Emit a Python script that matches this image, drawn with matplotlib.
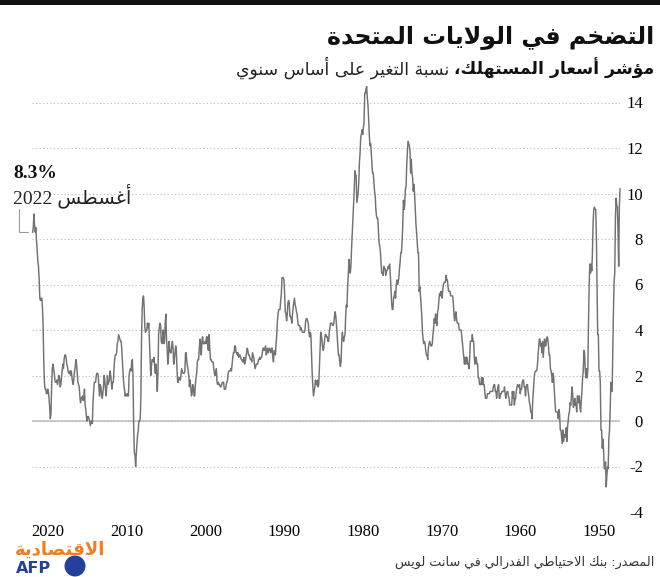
import re

import matplotlib
matplotlib.use('Agg')
import matplotlib.pyplot as plt
import matplotlib.patches as mpatches
import matplotlib.transforms as mtrans
import numpy as np

W, H = 660, 577

# monthly CPI, year-on-year change (%)
cpi_1940s = [10.2, 9.4, 6.8, 8.3, 9.4, 9.5, 9.8, 8.9, 6.5, 6.1, 4.8, 3.0,
             1.3, 1.3, 1.7, 0.4, -0.4, -0.8, -2.1, -2.0, -2.4, -2.9, -1.8, -2.1]
cpi_1950s = [-2.1, -1.3, -0.8, -1.2, -0.4, -0.4, 1.7, 2.2, 2.2, 3.8, 3.8, 5.9,
             8.1, 9.3, 9.3, 9.4, 9.3, 8.7, 7.4, 6.6, 6.9, 6.5, 6.9, 6.0,
             4.3, 2.3, 1.9, 2.3, 1.9, 2.3, 3.0, 3.1, 2.2, 1.9, 1.3, 0.9,
             0.4, 0.6, 1.1, 0.8, 1.1, 1.1, 0.4, 0.8, 0.7, 1.0, 0.7, 0.6,
             1.1, 1.5, 1.1, 0.7, 0.8, 0.4, 0.3, 0.0, -0.3, -0.9, -0.3, -0.7,
             -0.7, -0.6, -0.9, -0.4, -1.0, -0.7, -0.4, -0.4, 0.3, 0.5, 0.1, 0.4,
             0.4, 0.4, 0.4, 0.8, 1.3, 1.9, 2.1, 1.7, 2.0, 2.2, 2.3, 2.9,
             2.9, 3.3, 3.6, 3.7, 3.6, 3.3, 3.3, 3.6, 3.2, 2.8, 3.5, 3.0,
             3.4, 3.3, 3.6, 3.6, 3.2, 2.8, 2.4, 2.2, 2.2, 2.2, 2.1, 1.8,
             1.3, 0.9, 0.1, 0.4, 0.4, 0.7, 0.8, 1.1, 1.3, 1.6, 1.6, 1.5]
cpi_1960s = [1.1, 1.5, 1.5, 1.8, 1.8, 1.7, 1.4, 1.4, 1.2, 1.6, 1.5, 1.5,
             1.6, 1.5, 1.3, 1.0, 0.9, 0.7, 1.3, 1.0, 1.3, 0.7, 0.7, 0.7,
             0.7, 1.0, 1.1, 1.3, 1.3, 1.2, 1.0, 1.2, 1.5, 1.3, 1.3, 1.3,
             1.3, 1.2, 1.2, 1.0, 1.0, 1.6, 1.5, 1.3, 1.0, 1.3, 1.3, 1.6,
             1.6, 1.5, 1.3, 1.3, 1.3, 1.3, 1.3, 1.2, 1.2, 1.2, 1.2, 1.0,
             1.0, 1.0, 1.3, 1.6, 1.6, 1.9, 1.6, 1.9, 1.6, 1.6, 1.6, 1.9,
             1.9, 2.5, 2.5, 2.8, 2.8, 2.5, 2.8, 3.5, 3.5, 3.8, 3.5, 3.5,
             3.5, 2.8, 2.3, 2.5, 2.5, 2.8, 2.8, 2.5, 2.8, 2.5, 2.8, 3.1,
             3.4, 3.7, 4.0, 4.0, 4.0, 4.0, 4.3, 4.3, 4.3, 4.5, 4.8, 4.7,
             4.4, 4.7, 5.2, 5.5, 5.5, 5.5, 5.5, 5.7, 5.7, 5.7, 5.9, 6.2]
cpi_1970s = [6.2, 6.4, 6.1, 6.1, 6.1, 6.0, 5.8, 5.4, 5.6, 5.7, 5.5, 5.6,
             5.3, 4.9, 4.8, 4.2, 4.4, 4.7, 4.3, 4.5, 4.1, 3.8, 3.4, 3.3,
             3.3, 3.4, 3.5, 3.4, 3.2, 2.7, 2.9, 2.9, 3.1, 3.4, 3.5, 3.4,
             3.6, 3.9, 4.6, 5.1, 5.5, 5.9, 5.7, 7.4, 7.4, 7.9, 8.3, 8.7,
             9.4, 10.0, 10.4, 10.1, 10.7, 10.9, 11.5, 10.9, 11.9, 12.1, 12.2, 12.3,
             11.8, 11.2, 10.3, 10.2, 9.5, 9.3, 9.7, 8.6, 7.9, 7.4, 7.4, 7.0,
             6.7, 6.3, 6.1, 6.0, 6.2, 5.9, 5.4, 5.7, 5.5, 5.4, 4.9, 4.9,
             5.2, 5.9, 6.4, 6.9, 6.7, 6.8, 6.7, 6.6, 6.6, 6.4, 6.7, 6.7,
             6.8, 6.4, 6.5, 6.5, 6.9, 7.4, 7.7, 7.8, 8.3, 8.9, 8.9, 9.0,
             9.3, 9.9, 10.1, 10.5, 10.9, 10.9, 11.3, 11.8, 12.2, 12.1, 12.6, 13.3]
cpi_1980s = [13.9, 14.2, 14.7, 14.6, 14.4, 14.4, 13.1, 12.9, 12.6, 12.8, 12.6, 12.5,
             11.8, 11.4, 10.5, 10.0, 9.8, 9.6, 10.8, 10.8, 11.0, 10.1, 9.5, 8.9,
             8.4, 7.6, 6.8, 6.5, 6.7, 7.1, 6.4, 5.9, 5.0, 5.1, 4.6, 3.8,
             3.7, 3.5, 3.6, 3.9, 3.5, 2.6, 2.4, 2.6, 2.9, 2.9, 3.3, 3.8,
             4.2, 4.6, 4.8, 4.6, 4.3, 4.2, 4.2, 4.3, 4.3, 4.3, 4.1, 3.9,
             3.5, 3.5, 3.7, 3.7, 3.8, 3.8, 3.6, 3.3, 3.1, 3.2, 3.5, 3.8,
             3.9, 3.1, 2.3, 1.6, 1.5, 1.8, 1.6, 1.6, 1.8, 1.5, 1.3, 1.1,
             1.5, 2.1, 3.0, 3.8, 3.9, 3.7, 3.9, 4.3, 4.4, 4.5, 4.5, 4.4,
             4.0, 3.9, 3.9, 3.9, 3.9, 4.0, 4.1, 4.0, 4.2, 4.2, 4.2, 4.4,
             4.7, 4.8, 5.0, 5.1, 5.4, 5.2, 5.0, 4.7, 4.3, 4.5, 4.6, 4.6]
cpi_1990s = [5.2, 5.3, 5.2, 4.7, 4.4, 4.7, 4.8, 5.6, 6.2, 6.3, 6.3, 6.3,
             5.6, 5.3, 4.9, 4.9, 4.9, 4.7, 4.4, 3.8, 3.4, 2.9, 3.0, 3.1,
             2.6, 2.8, 3.2, 3.2, 3.0, 3.1, 3.2, 3.1, 3.0, 3.2, 3.0, 2.9,
             3.3, 3.2, 3.1, 3.2, 3.2, 3.0, 2.8, 2.8, 2.7, 2.8, 2.7, 2.7,
             2.5, 2.5, 2.5, 2.4, 2.3, 2.5, 2.8, 2.9, 3.0, 2.6, 2.7, 2.7,
             2.8, 2.9, 2.9, 3.1, 3.2, 3.0, 2.8, 2.6, 2.5, 2.8, 2.6, 2.6,
             2.7, 2.7, 2.8, 2.9, 2.9, 2.8, 3.0, 2.9, 3.0, 3.0, 3.3, 3.3,
             3.0, 3.0, 2.8, 2.5, 2.2, 2.3, 2.2, 2.2, 2.2, 2.1, 1.8, 1.7,
             1.6, 1.4, 1.4, 1.4, 1.7, 1.7, 1.7, 1.6, 1.5, 1.5, 1.6, 1.6,
             1.7, 1.6, 1.7, 2.3, 2.1, 2.0, 2.1, 2.3, 2.6, 2.6, 2.6, 2.7]
cpi_2000s = [2.7, 3.2, 3.8, 3.1, 3.2, 3.7, 3.7, 3.4, 3.5, 3.4, 3.4, 3.4,
             3.7, 3.5, 2.9, 3.3, 3.6, 3.2, 2.7, 2.7, 2.6, 2.1, 1.9, 1.6,
             1.1, 1.1, 1.5, 1.6, 1.2, 1.1, 1.5, 1.8, 1.5, 2.0, 2.2, 2.4,
             2.6, 3.0, 3.0, 2.2, 2.1, 2.1, 2.1, 2.2, 2.3, 2.0, 1.8, 1.9,
             1.9, 1.7, 1.7, 2.3, 3.1, 3.3, 3.0, 2.7, 2.5, 3.2, 3.5, 3.3,
             3.0, 3.0, 3.1, 3.5, 2.8, 2.5, 3.2, 3.6, 4.7, 4.3, 3.5, 3.4,
             4.0, 3.6, 3.4, 3.5, 4.2, 4.3, 4.1, 3.8, 2.1, 1.3, 2.0, 2.5,
             2.1, 2.4, 2.8, 2.6, 2.7, 2.7, 2.4, 2.0, 2.8, 3.5, 4.3, 4.1,
             4.3, 4.0, 4.0, 3.9, 4.1, 5.0, 5.5, 5.4, 4.9, 3.7, 1.1, 0.1,
             0.0, 0.0, -0.4, -0.6, -1.0, -1.4, -2.0, -1.5, -1.4, -0.2, 1.9, 2.7]
cpi_2010s = [2.6, 2.2, 2.3, 2.2, 2.0, 1.1, 1.2, 1.1, 1.1, 1.2, 1.1, 1.4,
             1.6, 2.0, 2.6, 3.1, 3.5, 3.5, 3.6, 3.7, 3.8, 3.5, 3.4, 3.0,
             2.9, 2.9, 2.7, 2.3, 1.7, 1.7, 1.4, 1.7, 2.0, 2.2, 1.8, 1.7,
             1.6, 2.0, 1.5, 1.1, 1.4, 1.8, 2.0, 1.5, 1.2, 1.0, 1.2, 1.5,
             1.6, 1.1, 1.5, 2.0, 2.1, 2.1, 2.0, 1.7, 1.7, 1.7, 1.3, 0.8,
             -0.1, 0.0, -0.1, -0.2, 0.0, 0.1, 0.2, 0.2, 0.0, 0.2, 0.5, 0.7,
             1.4, 1.0, 0.9, 1.1, 1.0, 1.0, 0.8, 1.1, 1.5, 1.6, 1.7, 2.1,
             2.5, 2.7, 2.4, 2.2, 1.9, 1.6, 1.7, 1.9, 2.2, 2.0, 2.2, 2.1,
             2.1, 2.2, 2.4, 2.5, 2.8, 2.9, 2.9, 2.7, 2.3, 2.5, 2.2, 1.9,
             1.6, 1.5, 1.9, 2.0, 1.8, 1.6, 1.8, 1.7, 1.7, 1.8, 2.1, 2.3]
cpi_2020s = [2.5, 2.3, 1.5, 0.3, 0.1, 0.6, 1.0, 1.3, 1.4, 1.2, 1.2, 1.4,
             1.4, 1.7, 2.6, 4.2, 5.0, 5.4, 5.4, 5.3, 5.4, 6.2, 6.8, 7.0,
             7.5, 7.9, 8.5, 8.3, 8.6, 9.1, 8.5, 8.3]

start_year = 1948
decade_labels = [2020, 2010, 2000, 1990, 1980, 1970, 1960, 1950]
y_ticks = [-4, -2, 0, 2, 4, 6, 8, 10, 12, 14]

title = 'التضخم في الولايات المتحدة'
subtitle_bold = 'مؤشر أسعار المستهلك،'
subtitle_rest = 'نسبة التغير على أساس سنوي'
last_label = '8.3%'
last_date = 'أغسطس 2022'
source = 'المصدر: بنك الاحتياطي الفدرالي في سانت لويس'
logo_ar = 'الاقتصادية'

# ---- minimal arabic shaping (presentation forms + visual order) ----
AR_FORMS = {
    '\u0621': (0xFE80, 1), '\u0622': (0xFE81, 2), '\u0623': (0xFE83, 2),
    '\u0624': (0xFE85, 2), '\u0625': (0xFE87, 2), '\u0626': (0xFE89, 4),
    '\u0627': (0xFE8D, 2), '\u0628': (0xFE8F, 4), '\u0629': (0xFE93, 2),
    '\u062A': (0xFE95, 4), '\u062B': (0xFE99, 4), '\u062C': (0xFE9D, 4),
    '\u062D': (0xFEA1, 4), '\u062E': (0xFEA5, 4), '\u062F': (0xFEA9, 2),
    '\u0630': (0xFEAB, 2), '\u0631': (0xFEAD, 2), '\u0632': (0xFEAF, 2),
    '\u0633': (0xFEB1, 4), '\u0634': (0xFEB5, 4), '\u0635': (0xFEB9, 4),
    '\u0636': (0xFEBD, 4), '\u0637': (0xFEC1, 4), '\u0638': (0xFEC5, 4),
    '\u0639': (0xFEC9, 4), '\u063A': (0xFECD, 4), '\u0641': (0xFED1, 4),
    '\u0642': (0xFED5, 4), '\u0643': (0xFED9, 4), '\u0644': (0xFEDD, 4),
    '\u0645': (0xFEE1, 4), '\u0646': (0xFEE5, 4), '\u0647': (0xFEE9, 4),
    '\u0648': (0xFEED, 2), '\u0649': (0xFEEF, 2), '\u064A': (0xFEF1, 4),
}
LAM_ALEF = {'\u0622': 0xFEF5, '\u0623': 0xFEF7, '\u0625': 0xFEF9, '\u0627': 0xFEFB}


def ar(text):
    units = []
    i = 0
    while i < len(text):
        c = text[i]
        if c == '\u0644' and i + 1 < len(text) and text[i + 1] in LAM_ALEF:
            units.append((LAM_ALEF[text[i + 1]], 2))
            i += 2
        else:
            units.append(AR_FORMS.get(c, c))
            i += 1
    out = []
    for k, u in enumerate(units):
        if isinstance(u, str):
            out.append(u)
            continue
        base, n = u
        prev = units[k - 1] if k > 0 else None
        nxt = units[k + 1] if k + 1 < len(units) else None
        jp = isinstance(prev, tuple) and prev[1] == 4
        jn = n == 4 and isinstance(nxt, tuple)
        if n == 1:
            form = 0
        elif jp and jn:
            form = 3
        elif jp:
            form = 1
        elif jn:
            form = 2
        else:
            form = 0
        out.append(chr(base + form))
    tokens = re.findall(r'[0-9A-Za-z.%]+|.', ''.join(out))
    return ''.join(reversed(tokens))


def fx(x):
    return x / W


def fy(y):
    return 1 - y / H


# ---- data ----
values = np.array(cpi_1940s + cpi_1950s + cpi_1960s + cpi_1970s + cpi_1980s
                  + cpi_1990s + cpi_2000s + cpi_2010s + cpi_2020s)
t = start_year + np.arange(len(values)) / 12.0

SERIF = 'Liberation Serif'
AR_FONT = ['DejaVu Sans']

fig = plt.figure(figsize=(W / 100, H / 100), dpi=100)
fig.add_artist(mpatches.Rectangle((0, fy(5)), 1, 5 / H, transform=fig.transFigure,
                                  color='#111111', lw=0))

ax = fig.add_axes([fx(32), fy(512), fx(620 - 32), 19 * 22.75 / H])
ax.set_xlim(2022.66, 1948.0)
ax.set_ylim(-4, 15)
for s in ax.spines.values():
    s.set_visible(False)

ax.grid(axis='y', ls=(0, (1, 2.2)), color='#b5b5b5', lw=0.8)
ax.axhline(0, color='#bdbdbd', lw=1.1, zorder=1)
ax.plot(t, values, color='#727272', lw=1.05, zorder=3, clip_on=False)

ax.set_yticks(y_ticks)
ax.set_yticklabels([str(v) for v in y_ticks])
ax.yaxis.tick_right()
ax.tick_params(axis='y', length=0, pad=16.5, labelsize=12)
for lab in ax.get_yticklabels():
    lab.set_ha('right')
    lab.set_family(SERIF)

ax.set_xticks([d + 0.63 for d in decade_labels])
ax.set_xticklabels([str(d) for d in decade_labels])
ax.tick_params(axis='x', length=0, pad=8.5, labelsize=12)
for lab in ax.get_xticklabels():
    lab.set_family(SERIF)

# last value annotation
ax.annotate('', xy=(t[-1], values[-1]), xytext=(-14, 23), textcoords='offset pixels',
            arrowprops=dict(arrowstyle='-', color='#9a9a9a', lw=0.8,
                            connectionstyle='angle,angleA=90,angleB=0,rad=0',
                            shrinkA=0, shrinkB=3))
fig.text(fx(13), fy(178), last_label, fontsize=14, fontweight='bold', family=SERIF,
         ha='left', va='baseline', color='#111111')
fig.text(fx(13), fy(203), ar(last_date), fontsize=14, family=[SERIF] + AR_FONT,
         ha='left', va='baseline', color='#222222')

# titles
fig.text(fx(654), fy(43), ar(title), fontsize=17, fontweight='bold', family=AR_FONT,
         ha='right', va='baseline', color='#111111')
sb = fig.text(fx(654), fy(75), ar(subtitle_bold), fontsize=12.4, fontweight='bold',
              family=AR_FONT, ha='right', va='baseline', color='#111111')
ax.annotate(ar(subtitle_rest), xy=(0, 0), xycoords=sb, xytext=(-4, 0),
            textcoords='offset pixels', fontsize=12.4, family=AR_FONT,
            ha='right', va='bottom', color='#222222', annotation_clip=False)

# source + logo
fig.text(fx(654), fy(566), ar(source), fontsize=9.2, family=AR_FONT,
         ha='right', va='baseline', color='#333333')
fig.text(fx(15), fy(555), ar(logo_ar), fontsize=13, fontweight='bold', family=AR_FONT,
         ha='left', va='baseline', color='#f07d1e')
fig.text(fx(16), fy(573), 'AFP', fontsize=11.5, fontweight='bold', family='DejaVu Sans',
         ha='left', va='baseline', color='#24409a')
fig.add_artist(mpatches.Circle((75, H - 566), 10.5, transform=mtrans.IdentityTransform(),
                               color='#24409a', lw=0))

fig.savefig('out.png', dpi=100)
